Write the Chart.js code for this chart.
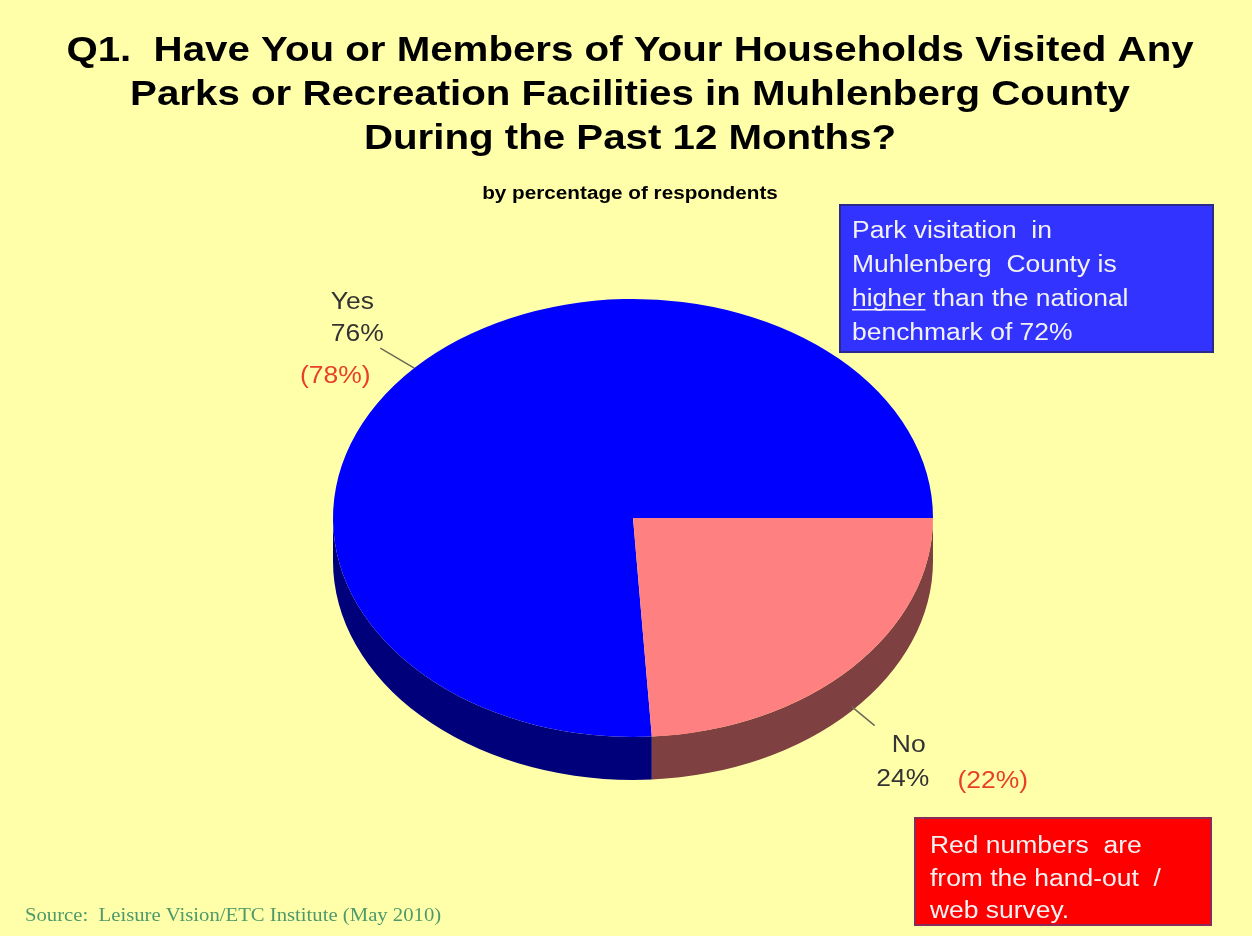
<!DOCTYPE html>
<html>
<head>
<meta charset="utf-8">
<script src="https://cdn.jsdelivr.net/npm/chart.js@4/dist/chart.umd.min.js"></script>
<style>
  html, body { margin: 0; padding: 0; background: #ffffff; }
  canvas { display: block; }
</style>
</head>
<body>
<canvas id="parksChart" width="1252" height="936"></canvas>
<script>
// data
var categories = ['Yes', 'No'];
var percentages = [76, 24];
var handoutPercentages = [78, 22];
var topColors = ['#0000FF', '#FF8080'];
var sideColors = ['#00007A', '#7E4040'];
var titleLines = [
    'Q1.  Have You or Members of Your Households Visited Any',
    'Parks or Recreation Facilities in Muhlenberg County',
    'During the Past 12 Months?'
];
var subtitleText = 'by percentage of respondents';
var sourceText = 'Source:  Leisure Vision/ETC Institute (May 2010)';

var TILT = 0.73;   // vertical squash of the pie
var DEPTH = 43;    // thickness of the pie wall
var SX = 1.15;     // the original slide text is a bit wide
var SANS = '"Liberation Sans", Arial, sans-serif';

var total = percentages.reduce(function (a, b) { return a + b; }, 0);

function wideText(ctx, text, x, y) {
    ctx.save();
    ctx.translate(x, y);
    ctx.scale(SX, 1);
    ctx.fillText(text, 0, 0);
    var w = ctx.measureText(text).width * SX;
    ctx.restore();
    return w;
}

function clipLower(s, e) {
    var out = [];
    for (var n = -1; n <= 2; n++) {
        var lo = Math.max(s, n * 2 * Math.PI);
        var hi = Math.min(e, n * 2 * Math.PI + Math.PI);
        if (hi > lo) out.push([lo, hi]);
    }
    return out;
}

var pie3d = {
    id: 'pie3d',
    beforeDraw: function (chart) {
        var ctx = chart.ctx;
        ctx.save();
        ctx.fillStyle = '#FFFFAA';
        ctx.fillRect(0, 0, chart.width, chart.height);

        // title + subtitle
        ctx.fillStyle = '#000000';
        ctx.textAlign = 'center';
        ctx.textBaseline = 'alphabetic';
        ctx.font = 'bold 35px ' + SANS;
        titleLines.forEach(function (line, i) {
            wideText(ctx, line, 630, 61 + i * 44);
        });
        ctx.font = 'bold 18px ' + SANS;
        wideText(ctx, subtitleText, 630, 199);
        ctx.restore();
    },
    beforeDatasetsDraw: function (chart) {
        var ctx = chart.ctx;
        var arcs = chart.getDatasetMeta(0).data;
        arcs.forEach(function (arc, i) {
            var p = arc.getProps(['x', 'y', 'startAngle', 'endAngle', 'outerRadius'], true);
            clipLower(p.startAngle, p.endAngle).forEach(function (r) {
                ctx.beginPath();
                ctx.ellipse(p.x, p.y, p.outerRadius, p.outerRadius * TILT, 0, r[0], r[1]);
                ctx.ellipse(p.x, p.y + DEPTH, p.outerRadius, p.outerRadius * TILT, 0, r[1], r[0], true);
                ctx.closePath();
                ctx.fillStyle = sideColors[i];
                ctx.fill();
            });
        });
        var c = arcs[0];
        ctx.save();
        ctx.translate(c.x, c.y);
        ctx.scale(1, TILT);
        ctx.translate(-c.x, -c.y);
    },
    afterDatasetsDraw: function (chart) {
        var ctx = chart.ctx;
        ctx.restore();

        // slice labels with leader lines
        var arcs = chart.getDatasetMeta(0).data;
        ctx.save();
        ctx.font = '23px ' + SANS;
        ctx.textAlign = 'center';
        ctx.textBaseline = 'middle';
        arcs.forEach(function (arc, i) {
            var mid = (arc.startAngle + arc.endAngle) / 2;
            var cos = Math.cos(mid), sin = Math.sin(mid);
            var sx = arc.x + arc.outerRadius * cos;
            var sy = arc.y + arc.outerRadius * TILT * sin + (sin > 0 ? DEPTH * 0.9 : 0);
            var ex, ey;
            if (sin < 0) {
                ex = sx - 34; ey = sy - 20;
            } else {
                ex = sx + 23; ey = sy + 19;
            }
            ctx.strokeStyle = '#6b6b55';
            ctx.lineWidth = 1.5;
            ctx.beginPath();
            ctx.moveTo(sx, sy);
            ctx.lineTo(ex, ey);
            ctx.stroke();
            var pct = percentages[i] + '%';
            var red = '(' + handoutPercentages[i] + '%)';
            ctx.fillStyle = '#333333';
            if (sin < 0) {
                wideText(ctx, categories[i], ex - 28, ey - 45);
                wideText(ctx, pct, ex - 23, ey - 13);
                ctx.fillStyle = '#E8402A';
                wideText(ctx, red, ex - 45, ey + 29);
            } else {
                wideText(ctx, categories[i], ex + 34, ey + 20);
                wideText(ctx, pct, ex + 28, ey + 54);
                ctx.fillStyle = '#E8402A';
                wideText(ctx, red, ex + 118, ey + 56);
            }
        });
        ctx.restore();
    },
    afterDraw: function (chart) {
        var ctx = chart.ctx;
        ctx.save();
        // blue note box
        ctx.fillStyle = '#3333FF';
        ctx.fillRect(840, 205, 373, 147);
        ctx.strokeStyle = '#2a2a8a';
        ctx.lineWidth = 2;
        ctx.strokeRect(840, 205, 373, 147);
        ctx.fillStyle = '#F2F2F2';
        ctx.font = '23px ' + SANS;
        ctx.textAlign = 'left';
        ctx.textBaseline = 'alphabetic';
        wideText(ctx, 'Park visitation  in', 852, 238);
        wideText(ctx, 'Muhlenberg  County is', 852, 272);
        var hw = wideText(ctx, 'higher', 852, 306);
        wideText(ctx, ' than the national', 852 + hw, 306);
        ctx.fillRect(852, 309, hw, 1.5);
        wideText(ctx, 'benchmark of 72%', 852, 340);

        // red note box
        ctx.fillStyle = '#FF0000';
        ctx.fillRect(915, 818, 296, 107);
        ctx.strokeStyle = '#8a2a5a';
        ctx.strokeRect(915, 818, 296, 107);
        ctx.fillStyle = '#F2F2F2';
        wideText(ctx, 'Red numbers  are', 930, 853);
        wideText(ctx, 'from the hand-out  /', 930, 886);
        wideText(ctx, 'web survey.', 930, 918);

        // source line
        ctx.fillStyle = '#4E9A6A';
        ctx.font = '18px "Liberation Serif", "Times New Roman", serif';
        wideText(ctx, sourceText, 25, 921);
        ctx.restore();
    }
};

var ctx = document.getElementById('parksChart').getContext('2d');
var parksChart = new Chart(ctx, {
    type: 'pie',
    data: {
        labels: categories,
        datasets: [{
            data: percentages,
            backgroundColor: topColors,
            borderWidth: 0,
            hoverOffset: 0,
            offset: 0
        }]
    },
    options: {
        responsive: false,
        animation: false,
        events: [],
        devicePixelRatio: 1,
        rotation: 90 + 360 * percentages[1] / total,
        layout: {
            padding: { left: 14, right: 0, top: 218, bottom: 118 }
        },
        plugins: {
            legend: { display: false },
            tooltip: { enabled: false },
            title: { display: false }
        }
    },
    plugins: [pie3d]
});
</script>
</body>
</html>
